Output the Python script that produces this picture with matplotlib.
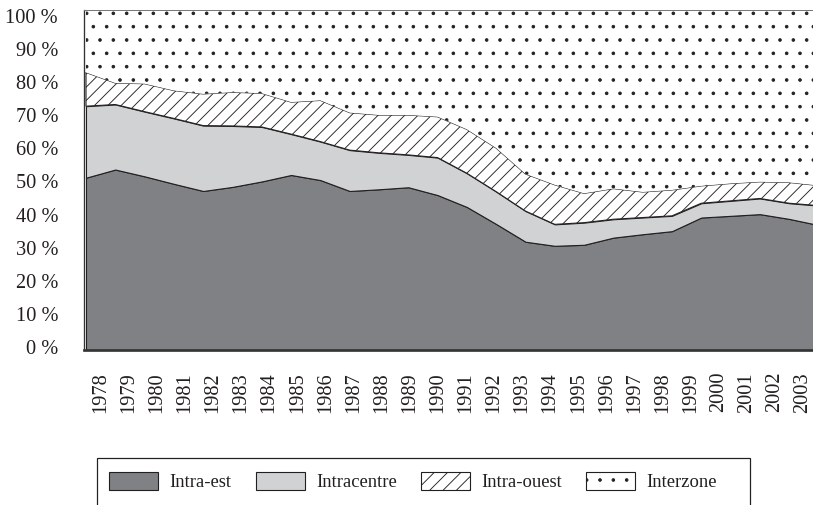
import numpy as np
import matplotlib
matplotlib.use("Agg")
import matplotlib.pyplot as plt
from matplotlib.patches import Rectangle

years = [str(y) for y in range(1978, 2004)]
intra_est = [50.6, 53.0, 51.0, 48.8, 46.7, 47.9, 49.5, 51.4, 49.9, 46.7, 47.2, 47.8, 45.5,
             42.0, 37.0, 31.8, 30.6, 30.9, 33.0, 34.0, 34.9, 38.9, 39.4, 39.9, 38.5, 36.7]
intracentre = [21.0, 19.1, 19.0, 19.2, 19.2, 17.9, 16.0, 12.0, 11.3, 12.0, 10.7, 9.5, 11.0,
               9.9, 9.5, 9.0, 6.3, 6.5, 5.4, 4.9, 4.5, 4.2, 4.4, 4.6, 4.6, 5.7]
intra_ouest = [9.9, 6.3, 8.2, 8.2, 9.3, 9.9, 9.9, 9.4, 12.1, 11.0, 11.1, 11.7, 12.0,
               12.9, 12.8, 10.9, 11.6, 8.6, 9.0, 7.5, 7.6, 5.1, 5.1, 4.9, 6.1, 5.9]
interzone = [18.5, 21.6, 21.8, 23.8, 24.8, 24.3, 24.6, 27.2, 26.7, 30.3, 31.0, 31.0, 31.5,
             35.2, 40.7, 48.3, 51.5, 54.0, 52.6, 53.6, 53.0, 51.8, 51.1, 50.6, 50.8, 51.7]
series_names = ["Intra-est", "Intracentre", "Intra-ouest", "Interzone"]
ytick_labels = ["0 %", "10 %", "20 %", "30 %", "40 %", "50 %", "60 %", "70 %", "80 %", "90 %", "100 %"]

plt.rcParams['font.family'] = ['Liberation Serif', 'DejaVu Serif']
plt.rcParams['hatch.linewidth'] = 0.8

DPI = 80
W, H = 813, 505
fig = plt.figure(figsize=(W / DPI, H / DPI), dpi=DPI)
fig.patch.set_facecolor('white')

ax = fig.add_axes([84 / W, (H - 350) / H, 734.5 / W, 340.5 / H])
x = np.arange(len(years))
edge = '#231f20'
polys = ax.stackplot(x, intra_est, intracentre, intra_ouest, interzone,
                     colors=['#808185', '#d1d2d4', 'white', 'white'],
                     edgecolor=edge, linewidth=1.0, labels=series_names)
polys[2].set_hatch('//')
polys[3].set_hatch('.')
polys[3].set_linewidth(0)


def thin_hatch(artist, lw=0.15):
    orig = artist.draw

    def draw(renderer, *args, **kwargs):
        with plt.rc_context({'hatch.linewidth': lw}):
            return orig(renderer, *args, **kwargs)
    artist.draw = draw


thin_hatch(polys[3])

ax.set_xlim(-0.068, 25)
ax.set_ylim(0, 100)

# tick label positions (visual placement)
xpos = np.linspace(0.5, 24.47, len(years))
ax.set_xticks(xpos)
ax.set_xticklabels(years, rotation=90, fontsize=18.4, color='#231f20')
ypos = np.linspace(0.9, 98.1, len(ytick_labels))
ax.set_yticks(ypos)
ax.set_yticklabels(ytick_labels, fontsize=18.4, color='#231f20')
ax.tick_params(axis='x', length=0, pad=19.8)
ax.tick_params(axis='y', length=0, pad=23.4)

ax.spines['right'].set_visible(False)
ax.spines['bottom'].set_color('#333333')
ax.spines['bottom'].set_linewidth(2.4)
ax.spines['left'].set_color('#333333')
ax.spines['left'].set_linewidth(1.2)
ax.spines['top'].set_color('#777777')
ax.spines['top'].set_linewidth(0.9)

# legend frame
fig.patches.append(Rectangle((97 / W, (H - 507) / H), (750 - 97) / W, (507 - 458.3) / H,
                             transform=fig.transFigure, facecolor='none',
                             edgecolor='#231f20', linewidth=1.1))
leg = fig.legend(handles=polys, labels=series_names, loc='center left',
                 bbox_to_anchor=(109.3 / W, (H - 481.7) / H), ncol=4, frameon=False,
                 fontsize=16.8, handlelength=2.62, handleheight=1.07,
                 handletextpad=0.61, columnspacing=1.3, borderpad=0, borderaxespad=0)
for t in leg.get_texts():
    t.set_color('#231f20')
for h in leg.legend_handles:
    h.set_edgecolor(edge)
    h.set_linewidth(1.0)
thin_hatch(leg.legend_handles[3])

fig.savefig('out.png', dpi=DPI)
